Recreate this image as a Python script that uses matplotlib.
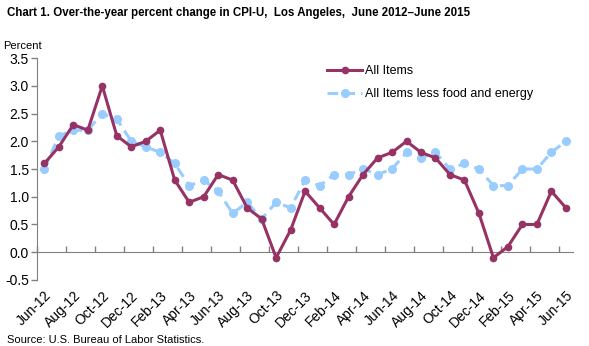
import numpy as np
import matplotlib.pyplot as plt

plt.rcParams['font.family'] = ['Liberation Sans', 'DejaVu Sans']

months = ['Jun-12', 'Jul-12', 'Aug-12', 'Sep-12', 'Oct-12', 'Nov-12', 'Dec-12',
          'Jan-13', 'Feb-13', 'Mar-13', 'Apr-13', 'May-13', 'Jun-13', 'Jul-13',
          'Aug-13', 'Sep-13', 'Oct-13', 'Nov-13', 'Dec-13', 'Jan-14', 'Feb-14',
          'Mar-14', 'Apr-14', 'May-14', 'Jun-14', 'Jul-14', 'Aug-14', 'Sep-14',
          'Oct-14', 'Nov-14', 'Dec-14', 'Jan-15', 'Feb-15', 'Mar-15', 'Apr-15',
          'May-15', 'Jun-15']

all_items = [1.6, 1.9, 2.3, 2.2, 3.0, 2.1, 1.9, 2.0, 2.2, 1.3, 0.9, 1.0, 1.4,
             1.3, 0.8, 0.6, -0.1, 0.4, 1.1, 0.8, 0.5, 1.0, 1.4, 1.7, 1.8, 2.0,
             1.8, 1.7, 1.4, 1.3, 0.7, -0.1, 0.1, 0.5, 0.5, 1.1, 0.8]

core = [1.5, 2.1, 2.2, 2.2, 2.5, 2.4, 2.0, 1.9, 1.8, 1.6, 1.2, 1.3, 1.1, 0.7,
        0.9, 0.6, 0.9, 0.8, 1.3, 1.2, 1.4, 1.4, 1.5, 1.4, 1.5, 1.8, 1.7, 1.8,
        1.5, 1.6, 1.5, 1.2, 1.2, 1.5, 1.5, 1.8, 2.0]

x = np.arange(len(months))
grey = '#808080'

fig = plt.figure(figsize=(5.89, 3.46), dpi=100)
ax = fig.add_axes([0.063, 0.191, 0.910, 0.641])

ax.plot(x, all_items, color='#963264', lw=2.2, marker='o', ms=4.5,
        label='All Items', zorder=3)
ax.plot(x, core, color='#99CCFF', lw=2.2, ls=(0, (3.5, 2)), marker='o', ms=5.5,
        label='All Items less food and energy', zorder=2)

ax.set_xlim(-0.5, len(months) - 0.5)
ax.set_ylim(-0.5, 3.5)
ax.set_yticks(np.arange(-0.5, 3.51, 0.5))
ax.set_yticklabels([f'{v:.1f}' for v in np.arange(-0.5, 3.51, 0.5)], fontsize=10)
ax.tick_params(axis='y', color=grey, length=4, width=1, pad=2)

# zero line carries the category ticks, pointing up
for s in ['top', 'right']:
    ax.spines[s].set_visible(False)
ax.spines['left'].set_color(grey)
ax.spines['bottom'].set_position(('data', 0))
ax.spines['bottom'].set_color(grey)
ax.set_xticks(np.arange(-0.5, len(months), 2))
ax.set_xticklabels([])
ax.tick_params(axis='x', direction='in', color=grey, length=4, width=1)

# month labels along the bottom
sec = ax.secondary_xaxis(0)
sec.spines['bottom'].set_visible(False)
sec.set_xticks(x[::2])
sec.set_xticklabels(months[::2], rotation=45, ha='right', rotation_mode='anchor',
                    fontsize=10)
sec.tick_params(length=0, pad=6)

ax.legend(loc='upper left', bbox_to_anchor=(0.52, 1.02), frameon=False,
          fontsize=9, handlelength=2.8, handletextpad=0.2, labelspacing=0.9)

fig.text(0.012, 0.962, 'Chart 1. Over-the-year percent change in CPI-U,  Los Angeles,  June 2012\u2013June 2015',
         fontsize=8.3, fontweight='bold', ha='left', va='center')
fig.text(0.005, 0.868, 'Percent', fontsize=8, ha='left', va='center')
fig.text(0.012, 0.018, 'Source: U.S. Bureau of Labor Statistics.', fontsize=8,
         ha='left', va='center')

fig.savefig('out.png', dpi=100)
